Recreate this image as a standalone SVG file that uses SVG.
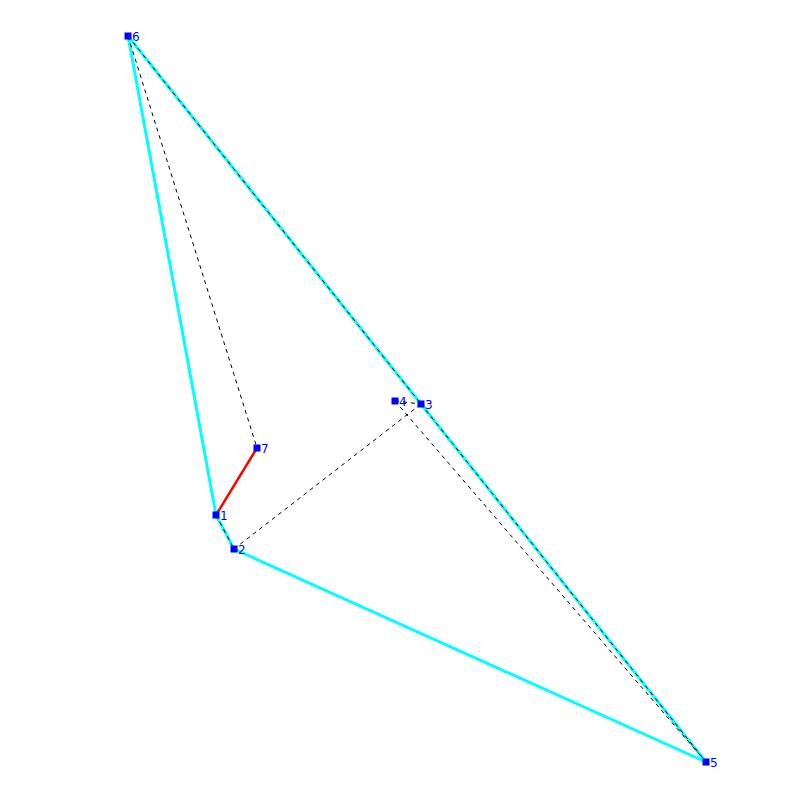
<svg xmlns="http://www.w3.org/2000/svg" width="800" height="800" viewBox="0 0 800 800">
<style>
.hull{stroke:#00ffff;stroke-width:3;fill:none}
.red{stroke:#ff0000;stroke-width:2.5;fill:none}
.dash{stroke:#000;stroke-width:1;stroke-dasharray:4 4;fill:none}
.pt{fill:#0000ff}
.lbl{fill:#0000ff;font-family:"DejaVu Sans",sans-serif;font-size:12px}
</style>
<rect width="800" height="800" fill="#fff"/>
<g id="connectors">
<line class="hull" x1="128" y1="36" x2="216" y2="515"/>
<line class="hull" x1="216" y1="515" x2="234" y2="549"/>
<line class="hull" x1="234" y1="549" x2="706" y2="762"/>
<line class="hull" x1="706" y1="762" x2="421" y2="404"/>
<line class="hull" x1="421" y1="404" x2="128" y2="36"/>
<line class="red" x1="216" y1="515" x2="257" y2="448"/>
<line class="dash" x1="128" y1="36" x2="257" y2="448"/>
<line class="dash" x1="128" y1="36" x2="421" y2="404"/>
<line class="dash" x1="216" y1="515" x2="234" y2="549"/>
<line class="dash" x1="234" y1="549" x2="421" y2="404"/>
<line class="dash" x1="395" y1="401" x2="421" y2="404"/>
<line class="dash" x1="395" y1="401" x2="706" y2="762"/>
<line class="dash" x1="421" y1="404" x2="706" y2="762"/>
</g>
<g id="n1"><rect class="pt" x="212.5" y="511.5" width="7" height="7"/><text class="lbl" x="220" y="519.5">1</text></g>
<g id="n2"><rect class="pt" x="230.5" y="545.5" width="7" height="7"/><text class="lbl" x="238" y="553.5">2</text></g>
<g id="n3"><rect class="pt" x="417.5" y="400.5" width="7" height="7"/><text class="lbl" x="425" y="408.5">3</text></g>
<g id="n4"><rect class="pt" x="391.5" y="397.5" width="7" height="7"/><text class="lbl" x="399" y="405.5">4</text></g>
<g id="n5"><rect class="pt" x="702.5" y="758.5" width="7" height="7"/><text class="lbl" x="710" y="766.5">5</text></g>
<g id="n6"><rect class="pt" x="124.5" y="32.5" width="7" height="7"/><text class="lbl" x="132" y="40.5">6</text></g>
<g id="n7"><rect class="pt" x="253.5" y="444.5" width="7" height="7"/><text class="lbl" x="261" y="452.5">7</text></g>
</svg>
